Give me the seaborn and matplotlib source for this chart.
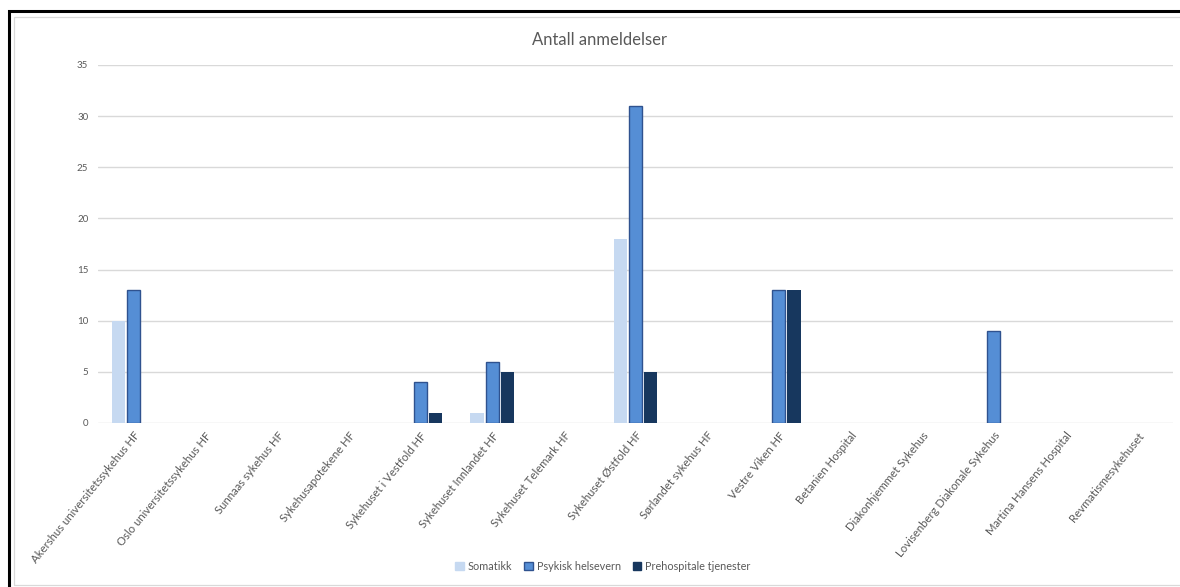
import matplotlib
matplotlib.use("Agg")
import matplotlib.pyplot as plt
import seaborn as sns
import pandas as pd
from matplotlib.patches import Rectangle, Patch

categories = [
    "Akershus universitetssykehus HF", "Oslo universitetssykehus HF", "Sunnaas sykehus HF",
    "Sykehusapotekene HF", "Sykehuset i Vestfold HF", "Sykehuset Innlandet HF",
    "Sykehuset Telemark HF", "Sykehuset Østfold HF", "Sørlandet sykehus HF",
    "Vestre Viken HF", "Betanien Hospital", "Diakonhjemmet Sykehus",
    "Lovisenberg Diakonale Sykehus", "Martina Hansens Hospital", "Revmatismesykehuset",
]
somatikk = [10, 0, 0, 0, 0, 1, 0, 18, 0, 0, 0, 0, 0, 0, 0]
psykisk = [13, 0, 0, 0, 4, 6, 0, 31, 0, 13, 0, 0, 9, 0, 0]
prehospitale = [0, 0, 0, 0, 1, 5, 0, 5, 0, 13, 0, 0, 0, 0, 0]
series_names = ["Somatikk", "Psykisk helsevern", "Prehospitale tjenester"]
y_ticks = [0, 5, 10, 15, 20, 25, 30, 35]
title = "Antall anmeldelser"

colors = ["#C6D9F1", "#558ED5", "#17375E"]
edges = ["#C6D9F1", "#2F528F", "#17375E"]

rows = []
for c, a, b, d in zip(categories, somatikk, psykisk, prehospitale):
    rows.append((c, series_names[0], a))
    rows.append((c, series_names[1], b))
    rows.append((c, series_names[2], d))
df = pd.DataFrame(rows, columns=["Enhet", "Type", "Antall"])

sns.set_theme(style="white")
plt.rcParams["font.family"] = ["Lato", "DejaVu Sans"]

fig = plt.figure(figsize=(11.8, 5.87), dpi=100)
ax = fig.add_axes([98 / 1180, 1 - 423 / 587, 1075 / 1180, (423 - 65) / 587])

sns.barplot(data=df, x="Enhet", y="Antall", hue="Type", order=categories,
            hue_order=series_names, palette=colors, width=0.63,
            ax=ax, legend=False, saturation=1)

# style bars: hide zero bars, small gap between bars, edge for Psykisk
n = len(categories)
for i, p in enumerate(ax.patches):
    s = i // n
    if p.get_height() == 0:
        p.set_visible(False)
        continue
    w = p.get_width()
    x0 = p.get_x()
    nw = w * 0.88
    p.set_x(x0 + (w - nw) / 2)
    p.set_width(nw)
    if s == 1:
        p.set_edgecolor(edges[1])
        p.set_linewidth(1.0)
    else:
        p.set_linewidth(0)

ax.set_xlim(-0.5, n - 0.5)
ax.set_ylim(0, 35)
ax.set_yticks(y_ticks)
ax.yaxis.grid(True, color="#D9D9D9", linewidth=1.0)
ax.set_axisbelow(True)
for sp in ax.spines.values():
    sp.set_visible(False)
ax.set_xlabel("")
ax.set_ylabel("")
ax.tick_params(axis="y", length=0, pad=7, labelsize=7, labelcolor="#595959")
ax.tick_params(axis="x", length=0, pad=5, labelsize=8.2, labelcolor="#595959")
ax.set_xticks(range(n))
ax.set_xticklabels(categories, rotation=51, ha="right", rotation_mode="anchor")

fig.text(600 / 1180, 1 - 40 / 587, title, ha="center", va="center",
         fontsize=12, color="#595959")

handles = [Patch(facecolor=colors[0], edgecolor=colors[0]),
           Patch(facecolor=colors[1], edgecolor=edges[1]),
           Patch(facecolor=colors[2], edgecolor=colors[2])]
fig.legend(handles, series_names, loc="center", bbox_to_anchor=(603 / 1180, 1 - 566 / 587),
           ncol=3, frameon=False, fontsize=7.8, labelcolor="#595959",
           handlelength=0.8, handleheight=0.8, handletextpad=0.35, columnspacing=1.1)

# outer black frame and inner gray chart border (extending past right/bottom edges)
fig.patches.append(Rectangle((8.5 / 1180, -0.2), 2.0, 1.2 - 11 / 587, transform=fig.transFigure,
                             fill=False, edgecolor="black", linewidth=2.2, zorder=10))
fig.patches.append(Rectangle((14 / 1180, 1 - 584.5 / 587), 2.0, (584.5 - 16.5) / 587,
                             transform=fig.transFigure, fill=False, edgecolor="#D9D9D9",
                             linewidth=0.9, zorder=10))

fig.savefig("out.png", dpi=100, facecolor="white")
